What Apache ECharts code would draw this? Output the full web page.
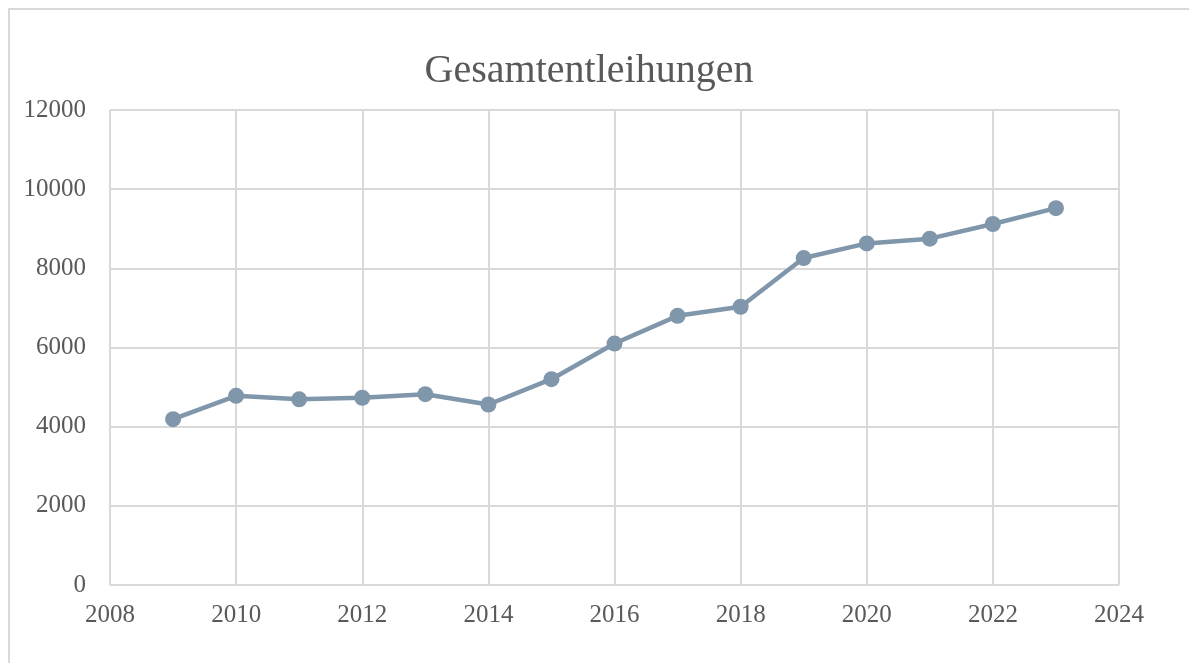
<!DOCTYPE html>
<html>
<head>
<meta charset="utf-8">
<script src="https://cdn.jsdelivr.net/npm/echarts@6/dist/echarts.min.js"></script>
<style>
    html, body {
        margin: 0;
        padding: 0;
        background: #ffffff;
    }
    /* äußerer Rahmen des Diagramms */
    .frame {
        position: absolute;
        left: 8px;
        top: 8px;
        width: 1200px;
        height: 700px;
        border: 2px solid #d9d9d9;
    }
    #main {
        position: absolute;
        left: 0;
        top: 0;
        width: 1189px;
        height: 663px;
    }
</style>
</head>
<body>
<div class="frame"></div>
<div id="main"></div>
<script>
    // Daten
    const years = [2009, 2010, 2011, 2012, 2013, 2014, 2015, 2016, 2017, 2018, 2019, 2020, 2021, 2022, 2023];
    const loans = [4190, 4780, 4690, 4730, 4820, 4560, 5200, 6100, 6800, 7030, 8260, 8630, 8750, 9120, 9520];

    const chartTitle = 'Gesamtentleihungen';
    const font = '"Liberation Serif", "DejaVu Serif", serif';
    const textColor = '#595959';
    const gridColor = '#d9d9d9';

    const chart = echarts.init(document.getElementById('main'));
    chart.setOption({
        animation: false,
        title: {
            text: chartTitle,
            left: 584,
            top: 46,
            textAlign: 'center',
            textStyle: {
                fontFamily: font,
                fontSize: 40,
                fontWeight: 'normal',
                color: textColor
            }
        },
        grid: {
            left: 110,
            top: 110,
            right: 70,
            bottom: 78
        },
        xAxis: {
            type: 'value',
            min: 2008,
            max: 2024,
            interval: 2,
            axisLine: {show: false},
            axisTick: {show: false},
            splitLine: {lineStyle: {color: gridColor, width: 2}},
            axisLabel: {
                margin: 18,
                fontFamily: font,
                fontSize: 25,
                color: textColor,
                formatter: v => String(v)
            }
        },
        yAxis: {
            type: 'value',
            min: 0,
            max: 12000,
            interval: 2000,
            axisLine: {show: false},
            axisTick: {show: false},
            splitLine: {lineStyle: {color: gridColor, width: 2}},
            axisLabel: {
                margin: 24,
                fontFamily: font,
                fontSize: 25,
                color: textColor,
                formatter: v => String(v)
            }
        },
        series: [
            {
                type: 'line',
                data: years.map((y, i) => [y, loans[i]]),
                symbol: 'circle',
                symbolSize: 16,
                lineStyle: {color: '#7f96ab', width: 4.5},
                itemStyle: {color: '#7f96ab'}
            }
        ]
    });
</script>
</body>
</html>
